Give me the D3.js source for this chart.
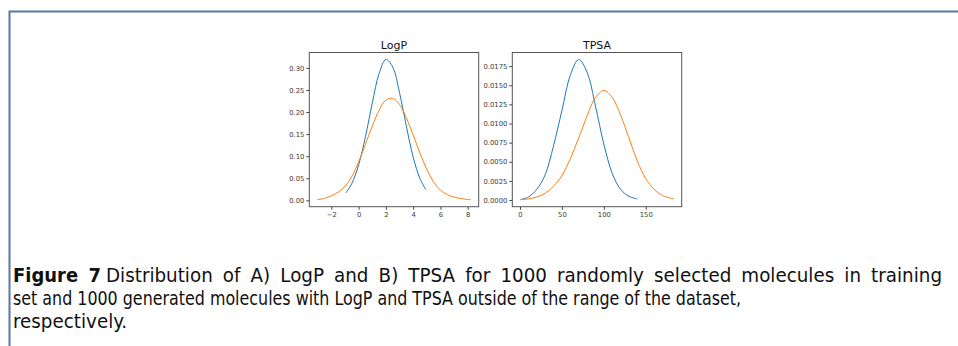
<!DOCTYPE html>
<html>
<head>
<meta charset="utf-8">
<script src="https://cdn.jsdelivr.net/npm/d3@7"></script>
<style>
  body { margin: 0; background: #fff; }
  .tick text { font-family: "DejaVu Sans", sans-serif; font-size: 6.8px; fill: #3a3a3a; }
  .tick line { stroke: #444; }
</style>
</head>
<body>
<div id="figure"></div>
<script>
//page size
var svgWidth = 958;
var svgHeight = 346;

//LogP curves (training = blue, generated = orange)
var logpTrainX = [-0.93, -0.5, 0, 0.5, 1, 1.5, 2, 2.5, 3, 3.5, 4, 4.5, 4.93];
var logpTrainY = [0.017, 0.038, 0.080, 0.144, 0.220, 0.287, 0.319, 0.302, 0.244, 0.168, 0.098, 0.049, 0.024];
var logpGenX = [-3.05, -2.5, -2, -1.5, -1, -0.5, 0, 0.5, 1, 1.5, 2, 2.5, 3, 3.5, 4, 4.5, 5, 5.5, 6, 6.5, 7, 7.5, 8, 8.24];
var logpGenY = [0.0015, 0.0045, 0.0105, 0.0185, 0.032, 0.054, 0.087, 0.127, 0.168, 0.204, 0.227, 0.231, 0.217, 0.187, 0.148, 0.107, 0.070, 0.042, 0.023, 0.013, 0.0075, 0.0042, 0.002, 0.0015];

//TPSA curves
var tpsaTrainX = [2, 10, 20, 30, 40, 50, 60, 70, 80, 90, 100, 110, 120, 130, 140];
var tpsaTrainY = [0.00012, 0.0004, 0.0014, 0.0033, 0.0071, 0.0117, 0.0163, 0.01836, 0.0167, 0.0123, 0.0073, 0.0035, 0.0014, 0.0005, 0.00015];
var tpsaGenX = [0, 10, 20, 30, 40, 50, 60, 70, 80, 90, 100, 110, 120, 130, 140, 150, 160, 170, 180, 183.7];
var tpsaGenY = [0.00005, 0.00015, 0.0004, 0.0009, 0.0018, 0.0032, 0.0054, 0.0081, 0.011, 0.0134, 0.01433, 0.0134, 0.0111, 0.0081, 0.0051, 0.0028, 0.0014, 0.0006, 0.00024, 0.00016];

//tick values
var logpXTicks = [-2, 0, 2, 4, 6, 8];
var logpYTicks = [0, 0.05, 0.10, 0.15, 0.20, 0.25, 0.30];
var tpsaXTicks = [0, 50, 100, 150];
var tpsaYTicks = [0, 0.0025, 0.005, 0.0075, 0.01, 0.0125, 0.015, 0.0175];

//caption pieces
var captionBold = "Figure 7";
var captionLines = [
    "Distribution of A) LogP and B) TPSA for 1000 randomly selected molecules in training",
    "set and 1000 generated molecules with LogP and TPSA outside of the range of the dataset,",
    "respectively."
];

var svg = d3.select('#figure')
        .append('svg')
        .attr('width', svgWidth)
        .attr('height', svgHeight);

svg.append('rect')
        .attr('width', svgWidth)
        .attr('height', svgHeight)
        .attr('fill', 'white');

//page frame (top and left rule)
svg.append('path')
        .attr('d', 'M9.5,346 V11.5 H958')
        .attr('fill', 'none')
        .attr('stroke', '#5876a6')
        .attr('stroke-width', 2);

//matplotlib-like 5% padding
function padded(vals) {
    var e = d3.extent(vals);
    var p = (e[1] - e[0]) * 0.05;
    return [e[0] - p, e[1] + p];
}

function minusFmt(f) {
    return d => d3.format(f)(d).replace('-', '\u2212');
}

function drawPanel(opts) {
    var w = 169.4, h = 154.2;
    var g = svg.append('g').attr('transform', `translate(${opts.left}, 52.5)`);

    var x = d3.scaleLinear()
            .domain(padded(opts.series[0].x.concat(opts.series[1].x)))
            .range([0, w]);
    var y = d3.scaleLinear()
            .domain(padded(opts.series[0].y.concat(opts.series[1].y)))
            .range([h, 0]);

    var bottomAxis = d3.axisBottom(x).tickValues(opts.xTicks).tickSize(3).tickPadding(2).tickFormat(minusFmt(opts.xFmt));
    var leftAxis = d3.axisLeft(y).tickValues(opts.yTicks).tickSize(3).tickPadding(2).tickFormat(d3.format(opts.yFmt));

    g.append('g').attr('transform', `translate(0, ${h})`).call(bottomAxis)
        .call(a => a.select('.domain').remove());
    g.append('g').call(leftAxis)
        .call(a => a.select('.domain').remove());

    var line = d3.line()
            .x(d => x(d[0]))
            .y(d => y(d[1]))
            .curve(d3.curveCatmullRom);

    opts.series.forEach(s => {
        g.append('path')
            .datum(s.x.map((v, i) => [v, s.y[i]]))
            .attr('d', line)
            .attr('fill', 'none')
            .attr('stroke', s.color)
            .attr('stroke-width', 1);
    });

    //axes box
    g.append('rect')
        .attr('width', w)
        .attr('height', h)
        .attr('fill', 'none')
        .attr('stroke', '#555')
        .attr('stroke-width', 1);

    g.append('text')
        .attr('x', w / 2)
        .attr('y', -3.5)
        .attr('text-anchor', 'middle')
        .style('font-family', 'DejaVu Sans, sans-serif')
        .style('font-size', '11px')
        .attr('fill', '#111')
        .text(opts.title);
}

drawPanel({
    left: 309.3, title: 'LogP',
    xTicks: logpXTicks, yTicks: logpYTicks, xFmt: 'd', yFmt: '.2f',
    series: [
        {x: logpTrainX, y: logpTrainY, color: '#1f77b4'},
        {x: logpGenX, y: logpGenY, color: '#ff7f0e'}
    ]
});

drawPanel({
    left: 512.3, title: 'TPSA',
    xTicks: tpsaXTicks, yTicks: tpsaYTicks, xFmt: 'd', yFmt: '.4f',
    series: [
        {x: tpsaTrainX, y: tpsaTrainY, color: '#1f77b4'},
        {x: tpsaGenX, y: tpsaGenY, color: '#ff7f0e'}
    ]
});

//caption
var capFont = '"DejaVu Sans", sans-serif';
var capX = [106, 13, 13];
var capWidths = [836, 728, 114];
var capY = [282, 305, 328];

function capText(x, y, len, str, bold) {
    var t = svg.append('text')
        .attr('x', x)
        .attr('y', y)
        .style('font-family', capFont)
        .style('font-stretch', 'condensed')
        .style('font-weight', bold ? 'bold' : 'normal')
        .style('font-size', '19px')
        .attr('fill', '#111')
        .text(str);
    // justify: wider word gaps first, then fit the rest by scaling glyphs
    var natural = t.node().getComputedTextLength();
    var spaces = (str.match(/ /g) || []).length;
    if (natural < len && spaces > 0) {
        t.style('word-spacing', Math.min((len - natural) / spaces, 4) + 'px');
    }
    t.attr('textLength', len).attr('lengthAdjust', 'spacingAndGlyphs');
}

capText(13, capY[0], 88, captionBold, true);
captionLines.forEach((t, i) => capText(capX[i], capY[i], capWidths[i], t, false));
</script>
</body>
</html>
